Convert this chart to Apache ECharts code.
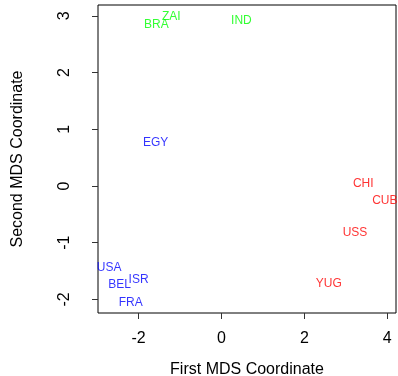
<!DOCTYPE html>
<html>
<head>
<meta charset="utf-8">
<script src="https://cdn.jsdelivr.net/npm/echarts@6/dist/echarts.min.js"></script>
<style>
    html, body { margin: 0; padding: 0; background: #fff; }
    #chart_mds { width: 398px; height: 376px; }
</style>
</head>
<body>
<div id="chart_mds"></div>
<script>
// country codes and their MDS coordinates
var countries = ['BRA', 'ZAI', 'IND', 'EGY', 'CHI', 'CUB', 'USS', 'YUG', 'USA', 'BEL', 'ISR', 'FRA'];
var coordX = [-1.57, -1.21, 0.48, -1.59, 3.42, 3.94, 3.22, 2.59, -2.71, -2.46, -2.0, -2.19];
var coordY = [2.85, 2.98, 2.92, 0.76, 0.04, -0.26, -0.83, -1.72, -1.44, -1.74, -1.66, -2.05];
// cluster of each country: 0 = green, 1 = blue, 2 = red
var cluster = [0, 0, 0, 1, 2, 2, 2, 2, 1, 1, 1, 1];
var clusterColors = ['#00ff00', '#0000ff', '#ff0000'];

var xTicks = [-2, 0, 2, 4];
var yTicks = [-2, -1, 0, 1, 2, 3];

var myChart = echarts.init(document.getElementById('chart_mds'));
var font = 'Liberation Sans, Arial, sans-serif';

var series = clusterColors.map(function (color, k) {
    var data = [];
    countries.forEach(function (name, i) {
        if (cluster[i] === k) {
            data.push({name: name, value: [coordX[i], coordY[i]]});
        }
    });
    return {
        type: 'scatter',
        symbolSize: 0,
        itemStyle: {color: 'transparent'},
        label: {
            show: true,
            position: 'inside',
            formatter: '{b}',
            color: color,
            fontFamily: font,
            fontSize: 12
        },
        emphasis: {disabled: true},
        data: data
    };
});

var option = {
    animation: false,
    grid: {
        left: 98, right: 2, top: 5, bottom: 63,
        outerBoundsMode: 'none',
        containLabel: false,
        show: true,
        borderColor: '#000',
        borderWidth: 1
    },
    xAxis: {
        type: 'value',
        min: -2.98,
        max: 4.21,
        name: 'First MDS Coordinate',
        nameLocation: 'middle',
        nameGap: 49,
        nameTextStyle: {fontFamily: font, fontSize: 16, color: '#000'},
        axisLine: {show: false, onZero: false},
        splitLine: {show: false},
        axisTick: {show: true, length: 6, customValues: xTicks, lineStyle: {color: '#333'}},
        axisLabel: {customValues: xTicks, margin: 18, fontFamily: font, fontSize: 16, color: '#000'}
    },
    yAxis: {
        type: 'value',
        min: -2.24,
        max: 3.19,
        name: 'Second MDS Coordinate',
        nameLocation: 'middle',
        nameGap: 72,
        nameTextStyle: {fontFamily: font, fontSize: 16, color: '#000'},
        axisLine: {show: false, onZero: false},
        splitLine: {show: false},
        axisTick: {show: true, length: 6, customValues: yTicks, lineStyle: {color: '#333'}},
        axisLabel: {customValues: yTicks, rotate: 90, margin: 25, fontFamily: font, fontSize: 16, color: '#000'}
    },
    series: series
};

myChart.setOption(option);
</script>
</body>
</html>
